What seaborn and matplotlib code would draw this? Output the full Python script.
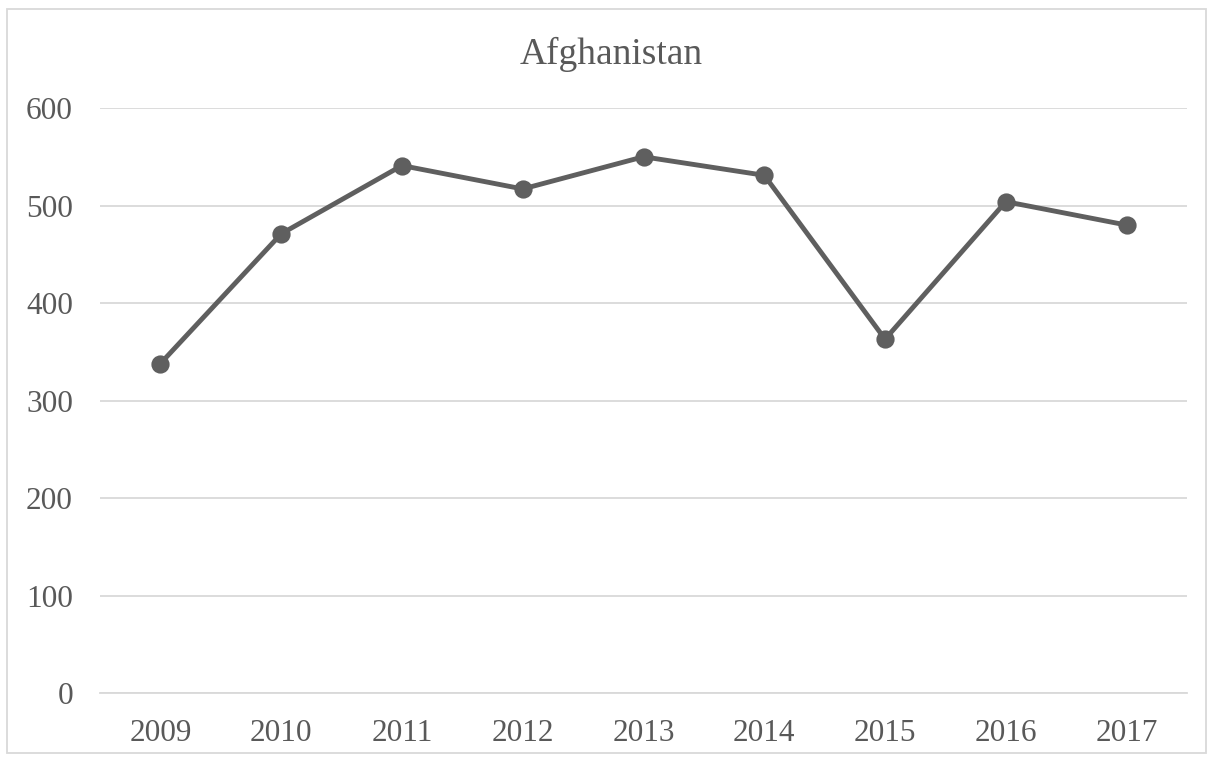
import matplotlib
matplotlib.use("Agg")
import matplotlib.pyplot as plt
import seaborn as sns
import pandas as pd
from matplotlib.patches import Rectangle

years = ["2009", "2010", "2011", "2012", "2013", "2014", "2015", "2016", "2017"]
values = [338, 471, 541, 517, 550, 531, 363, 504, 480]
title = "Afghanistan"
yticks = [0, 100, 200, 300, 400, 500, 600]

df = pd.DataFrame({"year": years, "value": values})

sns.set_theme(style="white")
plt.rcParams["font.family"] = ["Liberation Serif", "DejaVu Serif"]

text_color = "#595959"
line_color = "#5f5f5f"
grid_color = "#d9d9d9"

fig = plt.figure(figsize=(12.13, 7.6), dpi=100)
ax = fig.add_axes([100 / 1213, (760 - 693.3) / 760, (1187 - 100) / 1213, (693.3 - 108) / 760])

sns.pointplot(data=df, x="year", y="value", ax=ax, color=line_color,
              errorbar=None, markers="o", markersize=10.5, linewidth=3.5)

ax.set_xlim(-0.5, len(years) - 0.5)
ax.set_ylim(0, 600)
ax.set_yticks(yticks)
ax.set_yticklabels([str(v) for v in yticks])
ax.yaxis.grid(True, color=grid_color, linewidth=1.3)
ax.xaxis.grid(False)
ax.set_axisbelow(True)
for s in ["top", "right", "left"]:
    ax.spines[s].set_visible(False)
ax.spines["bottom"].set_color(grid_color)
ax.spines["bottom"].set_linewidth(1.3)
ax.tick_params(axis="both", length=0, labelsize=22.5, labelcolor=text_color)
ax.tick_params(axis="y", pad=19.5)
ax.tick_params(axis="x", pad=18.5)
ax.set_xlabel("")
ax.set_ylabel("")

fig.text(611 / 1213, 1 - 64 / 760, title, ha="center", va="baseline",
         fontsize=27, color=text_color)

fig.patches.append(Rectangle((7 / 1213, 1 - 753 / 760), 1199 / 1213, 744 / 760,
                             transform=fig.transFigure, fill=False,
                             edgecolor=grid_color, linewidth=1.3))

fig.savefig("out.png", dpi=100)
